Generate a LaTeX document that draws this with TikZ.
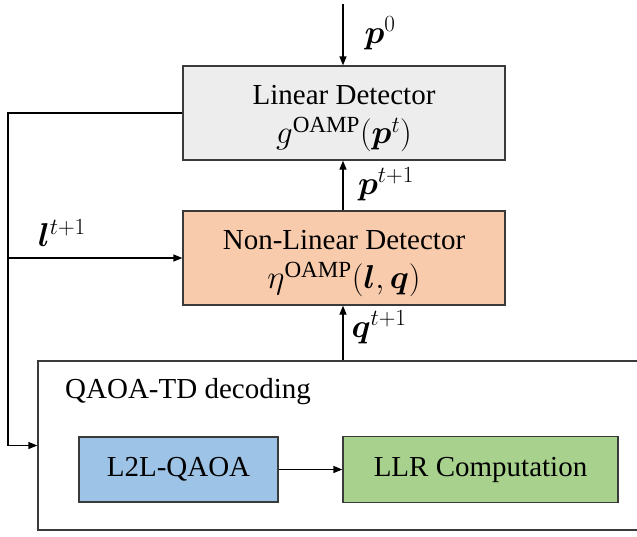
\RequirePackage{fix-cm}
\documentclass[tikz,border=0pt]{standalone}
\usepackage{amsmath}
\usepackage{bm}
\usepackage{fontspec}
\setmainfont{Liberation Serif}
\usetikzlibrary{arrows.meta}
\definecolor{lingray}{HTML}{EDEDED}
\definecolor{peach}{HTML}{F8CBAD}
\definecolor{lblue}{HTML}{9DC3E6}
\definecolor{lgreen}{HTML}{A9D18E}
\definecolor{edgec}{HTML}{3A3A3A}
\newcommand{\mth}{\fontsize{33}{36}\selectfont}
\tikzset{
  blk/.style={draw=edgec, line width=1.3pt, rectangle, align=center, inner sep=0pt},
  conn/.style={draw=black, line width=1.3pt, -{Triangle[length=9pt,width=7pt]}},
  lbl/.style={inner sep=0pt, font=\mth},
  txt/.style={inner sep=0pt, align=center},
}
\begin{document}
\begin{tikzpicture}[x=1pt,y=-1pt,font=\fontsize{29}{34}\selectfont]
\useasboundingbox (0,0) rectangle (637,536);
\clip (0,0) rectangle (637,536);
\node[blk, fill=lingray, minimum width=322pt, minimum height=94pt] (lin) at (344,113) {};
\node[txt] (lintxt) at ([yshift=-6pt]lin.center)
  {Linear Detector\\[5pt] {\mth $g^{\mathrm{OAMP}}(\bm{p}^{t})$}};
\node[blk, fill=peach, minimum width=322pt, minimum height=94pt] (nl) at (344,258) {};
\node[txt] (nltxt) at ([yshift=-6pt]nl.center)
  {Non-Linear Detector\\[5pt] {\mth $\eta^{\mathrm{OAMP}}(\bm{l},\bm{q})$}};
\node[blk, fill=white, minimum width=620pt, minimum height=169pt] (qaoa) at (348,445.5) {};
\node[inner sep=0pt, anchor=west] (qt) at (65,392) {QAOA-TD decoding};
\node[blk, fill=lblue, minimum width=199pt, minimum height=65pt] (l2l) at (178.5,469.5) {L2L-QAOA};
\node[blk, fill=lgreen, minimum width=275pt, minimum height=66pt] (llr) at (480.5,469.5) {LLR Computation};
\coordinate (top) at (343,4);
\coordinate (fbx) at (8,0);
\draw[conn] (top) -- (top |- lin.north);
\draw[conn] (top |- nl.north) -- (top |- lin.south);
\draw[conn] (top |- qaoa.north) -- (top |- nl.south);
\draw[conn] (lin.west) -- (lin.west -| fbx) |- (qaoa.west);
\draw[conn] (fbx |- nl.west) -- (nl.west);
\draw[conn] (l2l.east) -- (llr.west);
\node[lbl] (p0) at (380,33) {$\bm{p}^{0}$};
\node[lbl] (pt1) at (386,184) {$\bm{p}^{t+1}$};
\node[lbl] (lt1) at (62,233) {$\bm{l}^{t+1}$};
\node[lbl] (qt1) at (379,327) {$\bm{q}^{t+1}$};
\end{tikzpicture}
\end{document}
